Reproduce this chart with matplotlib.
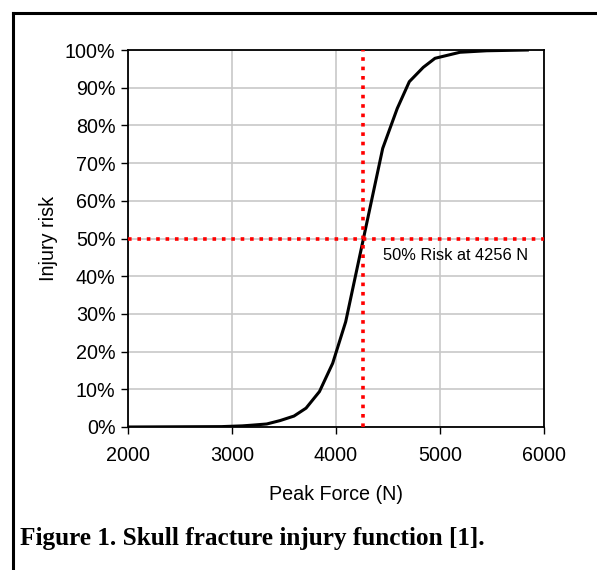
import numpy as np
import matplotlib.pyplot as plt
from matplotlib.lines import Line2D

# Skull fracture injury risk curve
force = [2000, 2900, 3100, 3200, 3334, 3462, 3596, 3712, 3841, 3968, 4093,
         4449, 4589, 4705, 4839, 4952, 5192, 5449, 5840]
risk = [0.0, 0.1, 0.3, 0.5, 0.8, 1.7, 2.9, 5.0, 9.4, 16.9, 27.9,
        73.9, 84.5, 91.6, 95.4, 97.8, 99.4, 99.8, 100.0]
f50 = 4256
x_ticks = [2000, 3000, 4000, 5000, 6000]
y_ticks = list(range(0, 101, 10))

plt.rcParams['font.family'] = ['Liberation Sans', 'DejaVu Sans']

fig = plt.figure(figsize=(5.97, 5.70), dpi=100)
ax = fig.add_axes([128/597, 1-427/570, 416/597, 377/570])

ax.plot(force, risk, color='black', lw=2.2, zorder=3)
ax.axvline(f50, color='red', lw=2.6, ls=(0, (1, 1.6)), zorder=4)
ax.axhline(50, color='red', lw=2.6, ls=(0, (1, 1.6)), zorder=4)
ax.text(4450, 45.5, '50% Risk at 4256 N', fontsize=11.8, va='center', ha='left')

ax.set_xlim(2000, 6000)
ax.set_ylim(0, 100)
ax.set_xticks(x_ticks)
ax.set_yticks(y_ticks)
ax.set_yticklabels([f'{v}%' for v in y_ticks])
ax.tick_params(direction='out', length=5, width=1, labelsize=14.2)
ax.tick_params(axis='y', pad=4)
ax.tick_params(axis='x', pad=9)
ax.grid(True, color='#c8c8c8', lw=1.2)
ax.set_axisbelow(True)
for s in ax.spines.values():
    s.set_linewidth(1.3)

ax.set_xlabel('Peak Force (N)', fontsize=14.2, labelpad=14)
ax.set_ylabel('Injury risk', fontsize=14.2, labelpad=5)

# partial outer frame (top and left edges)
fig.add_artist(Line2D([12.5/597, 1], [1-12.5/570, 1-12.5/570], color='black', lw=2.2))
fig.add_artist(Line2D([12.5/597, 12.5/597], [0, 1-12.5/570], color='black', lw=2.2))

fig.text(20/597, 1-539/570, 'Figure 1. Skull fracture injury function [1].',
         family=['Liberation Serif', 'DejaVu Serif'], fontweight='bold',
         fontsize=18.2, va='center', ha='left')

fig.savefig('out.png', dpi=100)
